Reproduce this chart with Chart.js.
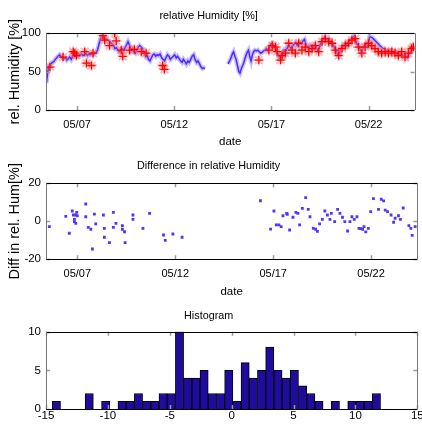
<!DOCTYPE html>
<html>
<head>
<meta charset="utf-8">
<script src="https://cdn.jsdelivr.net/npm/chart.js@4.4.1/dist/chart.umd.min.js"></script>
<style>
  html, body { margin: 0; padding: 0; background: #fff; }
  #wrap { position: relative; width: 422px; height: 432px; }
  canvas { position: absolute; left: 0; }
</style>
</head>
<body>
<div id="wrap">
  <canvas id="humChart" width="422" height="150" style="top:0"></canvas>
  <canvas id="diffChart" width="422" height="150" style="top:150px"></canvas>
  <canvas id="histChart" width="422" height="132" style="top:300px"></canvas>
</div>
<script>
// x axis = day of May
const tickDays = [7, 12, 17, 22];
const dateLabels = ["05/07", "05/12", "05/17", "05/22"];

// modelled humidity (blue line), null = no data
const humDays = [5.42, 5.47, 5.52, 5.58, 5.65, 5.72, 5.80, 5.88, 5.95, 6.02, 6.10, 6.17, 6.25, 6.32, 6.40, 6.47, 6.55, 6.62, 6.70, 6.77,
  6.85, 6.92, 7.00, 7.08, 7.15, 7.23, 7.30, 7.38, 7.45, 7.53, 7.60, 7.68, 7.75, 7.83, 7.90, 7.98, 8.05, 8.12, 8.20, 8.27,
  8.35, 8.42, 8.50, 8.57, 8.65, 8.72, 8.80, 8.88, 8.95, 9.02, 9.10, 9.17, 9.25, 9.33, 9.40, 9.48, 9.55, 9.62, 9.70, 9.77,
  9.85, 9.92, 10.00, 10.07, 10.15, 10.22, 10.30, 10.37, 10.45, 10.52, 10.60, 10.67, 10.75, 10.82, 10.90, 10.97, 11.05, 11.12, 11.20, 11.27,
  11.35, 11.42, 11.50, 11.57, 11.65, 11.72, 11.80, 11.87, 11.95, 12.02, 12.10, 12.17, 12.25, 12.32, 12.40, 12.47, 12.55, 12.62, 12.70, 12.77,
  12.85, 12.92, 13.00, 13.07, 13.15, 13.22, 13.30, 13.38, 13.45, 13.52, 13.58, 14.20,
  14.77, 14.85, 14.92, 15.00, 15.05, 15.12, 15.18, 15.25, 15.32, 15.38, 15.45, 15.52, 15.58, 15.65, 15.70, 15.77, 15.82, 15.88, 15.95, 16.02,
  16.08, 16.15, 16.22, 16.30, 16.37, 16.45, 16.52, 16.60, 16.67, 16.75, 16.82, 16.90, 16.97, 17.05, 17.12, 17.20, 17.27, 17.35, 17.42, 17.50,
  17.57, 17.65, 17.72, 17.80, 17.87, 17.95, 18.02, 18.10, 18.17, 18.25, 18.32, 18.40, 18.47, 18.55, 18.62, 18.70, 18.77, 18.85, 18.92, 19.00,
  19.07, 19.15, 19.22, 19.30, 19.37, 19.45, 19.52, 19.60, 19.67, 19.75, 19.82, 19.90, 19.97, 20.05, 20.12, 20.20, 20.27, 20.35, 20.42, 20.50,
  20.57, 20.65, 20.72, 20.80, 20.87, 20.95, 21.02, 21.10, 21.17, 21.25, 21.32, 21.40, 21.47, 21.55, 21.62, 21.70, 21.77, 21.85, 21.92, 22.00,
  22.05, 22.12, 22.20, 22.27, 22.35, 22.42, 22.50, 22.57, 22.65, 22.72, 22.80, 22.87, 22.95, 23.02, 23.10, 23.17, 23.25, 23.32, 23.40, 23.47,
  23.55, 23.62, 23.70, 23.77, 23.85, 23.92, 24.00, 24.07, 24.15, 24.22, 24.30, 24.36];
const humVals = [35, 45, 55, 58, 60, 62, 63, 66, 68, 70, 72, 70, 68, 67, 68, 65, 67, 69, 66, 70,
  72, 70, 72, 70, 72, 73, 71, 72, 74, 71, 73, 72, 74, 72, 74, 75, 78, 85, 93, 95,
  94, 92, 93, 91, 90, 88, 86, 84, 80, 81, 78, 76, 79, 80, 78, 82, 85, 89, 84, 78,
  80, 76, 74, 78, 82, 84, 82, 80, 74, 70, 72, 66, 64, 68, 72, 73, 70, 72, 71, 73,
  68, 66, 64, 68, 72, 70, 66, 68, 70, 72, 68, 70, 67, 64, 62, 66, 63, 60, 64, 62,
  66, 70, 72, 66, 62, 64, 60, 56, 54, 55, 54, null,
  60, 64, 68, 74, 76, 70, 66, 58, 50, 48, 54, 58, 62, 68, 72, 76, 78, 70, 64, 72,
  76, 78, 77, 78, 76, 74, 75, 77, 78, 80, 78, 82, 86, 87, 84, 80, 76, 72, 68, 70,
  74, 78, 76, 80, 84, 82, 80, 84, 86, 88, 84, 86, 88, 86, 90, 92, 86, 82, 80, 84,
  82, 80, 84, 82, 78, 80, 86, 90, 92, 95, 92, 90, 92, 88, 86, 84, 80, 76, 72, 74,
  80, 82, 84, 86, 84, 88, 90, 92, 94, 96, 92, 86, 84, 80, 76, 80, 84, 86, 84, 88,
  96, 95, 94, 92, 90, 88, 86, 84, 82, 80, 80, 78, 77, 78, 76, 78, 76, 74, 76, 74,
  72, 74, 72, 70, 72, 70, 68, 72, 76, 78, 80, 79];

// measured humidity (red +)
const obsDays = [5.60, 6.28, 6.80, 6.88, 6.97, 7.39, 7.48, 7.74, 7.82, 8.33, 8.42, 8.67, 8.93, 9.01, 9.27, 9.35, 9.70, 9.95, 10.30, 10.55,
  11.40, 11.49,
  16.35, 16.87, 17.04, 17.21, 17.29, 17.47, 17.55, 17.72, 17.89, 18.06, 18.23, 18.40, 18.57, 18.74, 18.92, 19.09, 19.26, 19.43, 19.60, 19.77,
  19.94, 20.12, 20.29, 20.46, 20.63, 20.80, 20.97, 21.14, 21.31, 21.48, 21.65, 21.82, 21.99, 22.16, 22.33, 22.50, 22.67, 22.85, 23.02, 23.19,
  23.36, 23.53, 23.70, 23.87, 24.04, 24.21, 24.30];
const obsVals = [56, 69, 76, 74, 71, 76, 61, 58, 74, 97, 91, 84, 100, 90, 78, 70, 78, 79, 76, 74,
  58, 53,
  65, 78, 84, 82, 76, 65, 71, 74, 87, 78, 74, 87, 78, 82, 76, 80, 84, 76, 89, 93,
  89, 87, 78, 71, 80, 84, 87, 91, 93, 82, 74, 82, 87, 84, 80, 76, 74, 76, 74, 76,
  74, 71, 76, 69, 74, 80, 82];

// difference measured - modelled
const diffDays = [5.57, 6.41, 6.59, 6.74, 6.80, 6.85, 6.85, 6.92, 6.97, 6.92, 7.00, 7.43, 7.43, 7.56, 7.69, 7.77, 7.87, 7.94, 8.33, 8.38,
  8.38, 8.64, 8.84, 8.84, 8.97, 9.30, 9.30, 9.41, 9.44, 9.84, 9.84, 10.35, 10.69, 11.40, 11.49, 11.88, 12.35,
  16.35, 16.87, 17.04, 17.16, 17.29, 17.41, 17.50, 17.69, 17.72, 17.84, 18.01, 18.16, 18.26, 18.35, 18.49, 18.66, 18.79, 18.88, 19.05, 19.17,
  19.26, 19.37, 19.51, 19.64, 19.77, 19.90, 19.97, 20.14, 20.29, 20.41, 20.54, 20.66, 20.80, 20.92, 21.02, 21.14, 21.28, 21.38, 21.47, 21.57,
  21.64, 21.73, 21.86, 21.98, 22.12, 22.38, 22.52, 22.64, 22.72, 22.84, 23.02, 23.15, 23.23, 23.40, 23.50, 23.64, 23.93, 24.03, 24.10, 24.25];
const diffVals = [-2.8, 2.6, -6.3, 5.4, 3.3, 1.0, -0.2, 3.3, 4.7, -1.1, 2.8, 9.1, 2.4, -3.2, -4.2, -14.6, 3.8, -1.4, 3.3, -3.7,
  -8.4, -11.2, 4.7, -3.2, -1.1, -2.3, -4.2, -5.5, -11.2, 3.3, 1.0, -3.7, 4.2, -7.2, -10.0, -6.7, -8.4,
  10.8, -4.1, 5.4, -1.9, -1.9, -2.8, 2.9, 4.2, 3.7, -4.6, 2.1, 4.7, 4.2, -1.9, 6.8, 12.4, 6.3, 2.4, -3.7, -4.2,
  -5.3, -1.4, 1.0, 5.4, 3.3, 1.0, 4.2, -0.2, 6.3, 4.2, 2.1, -0.2, -5.1, -0.2, 2.4, 1.0, 2.4, -3.7, -3.9, -4.2,
  -2.8, -5.6, -3.7, 5.1, 11.9, 6.3, 11.6, 10.7, 5.9, 5.1, 3.3, -0.5, 1.6, 2.9, 1.0, 7.0, -2.3, -3.7, -7.4, -2.8];

// histogram of the differences, 40 bins
const histStart = -14.49;
const histBinWidth = 0.663;
const histCounts = [1, 0, 0, 0, 2, 0, 1, 0, 1, 1, 2, 1, 1, 2, 2, 10, 4, 4, 5, 2,
  2, 5, 1, 6, 4, 5, 8, 5, 4, 5, 3, 2, 1, 0, 1, 0, 1, 1, 1, 2];
const histCenters = histCounts.map((c, i) => histStart + (i + 0.5) * histBinWidth);

const fontFamily = "'Liberation Sans', Arial, sans-serif";
Chart.defaults.font.family = fontFamily;
Chart.defaults.color = "#000";

// MATLAB style box with inward tick marks
const matlabBox = {
  id: "matlabBox",
  afterDraw(chart) {
    const { ctx, chartArea: a, scales } = chart;
    ctx.save();
    ctx.strokeStyle = "#9a9a9a";
    ctx.lineWidth = 1.5;
    ctx.beginPath();
    scales.x.ticks.forEach(t => {
      const px = Math.round(scales.x.getPixelForValue(t.value)) + 0.5;
      ctx.moveTo(px, a.bottom); ctx.lineTo(px, a.bottom - 4);
      ctx.moveTo(px, a.top); ctx.lineTo(px, a.top + 4);
    });
    scales.y.ticks.forEach(t => {
      const py = Math.round(scales.y.getPixelForValue(t.value)) + 0.5;
      ctx.moveTo(a.left, py); ctx.lineTo(a.left + 4, py);
      ctx.moveTo(a.right, py); ctx.lineTo(a.right - 4, py);
    });
    ctx.stroke();
    ctx.lineWidth = 1;
    ctx.strokeStyle = "#000";
    ctx.beginPath();
    ctx.moveTo(a.left, Math.round(a.top) + 0.5); ctx.lineTo(a.right, Math.round(a.top) + 0.5);
    ctx.moveTo(a.left, Math.round(a.bottom) + 0.5); ctx.lineTo(a.right, Math.round(a.bottom) + 0.5);
    ctx.stroke();
    ctx.strokeStyle = "#777";
    ctx.beginPath();
    ctx.moveTo(Math.round(a.left) + 0.5, a.top); ctx.lineTo(Math.round(a.left) + 0.5, a.bottom);
    ctx.moveTo(Math.round(a.right) + 0.5, a.top); ctx.lineTo(Math.round(a.right) + 0.5, a.bottom);
    ctx.stroke();
    ctx.restore();
  }
};

function dateAxis(min, max, height) {
  return {
    type: "linear",
    min: min,
    max: max,
    afterBuildTicks: s => { s.ticks = tickDays.map(v => ({ value: v })); },
    afterFit: s => { s.height = height; s.paddingLeft = 0; s.paddingRight = 0; },
    grid: { display: false, drawTicks: false },
    border: { display: false },
    ticks: { padding: 8, font: { size: 11 }, maxRotation: 0, callback: v => dateLabels[tickDays.indexOf(v)] },
    title: { display: true, text: "date", font: { size: 11.5 }, padding: { top: 0, bottom: 1 } }
  };
}

function valueAxis(min, max, step, label) {
  return {
    min: min,
    max: max,
    afterFit: s => { s.width = 46; s.paddingTop = 0; s.paddingBottom = 0; },
    grid: { display: false, drawTicks: false },
    border: { display: false },
    ticks: { stepSize: step, padding: 5, font: { size: 11.5 } },
    title: { display: !!label, text: label, font: { size: 14.5 }, padding: { top: 6, bottom: 0 } }
  };
}

function titleOpts(text, top, bottom) {
  return { display: true, text: text, color: "#000", font: { size: 10.8, weight: "normal" }, padding: { top: top, bottom: bottom } };
}

const humPoints = humDays.map((d, i) => ({ x: d, y: humVals[i] }));
const obsPoints = obsDays.map((d, i) => ({ x: d, y: obsVals[i] }));

new Chart("humChart", {
  type: "line",
  data: {
    datasets: [
      { data: humPoints, borderColor: "rgba(150,130,255,0.5)", borderWidth: 4.5, pointRadius: 0, spanGaps: false, order: 4 },
      { data: humPoints, borderColor: "#4b2eff", borderWidth: 1.5, pointRadius: 0, spanGaps: false, order: 3 },
      { data: obsPoints, showLine: false, pointStyle: "star", pointRadius: 5.5, borderColor: "rgba(255,110,110,0.45)", borderWidth: 2, order: 2 },
      { data: obsPoints, showLine: false, pointStyle: "cross", pointRadius: 4, borderColor: "#ff0000", borderWidth: 1.3, order: 1 }
    ]
  },
  options: {
    responsive: false,
    animation: false,
    devicePixelRatio: 1,
    layout: { padding: { left: 0, right: 4.7, top: 0, bottom: 0 } },
    plugins: { legend: { display: false }, tooltip: { enabled: false }, title: titleOpts("relative Humidity [%]", 9.5, 10.8) },
    scales: {
      x: dateAxis(5.4, 24.36, 40),
      y: valueAxis(0, 100, 50, "rel. Humidity [%]")
    }
  },
  plugins: [matlabBox]
});

new Chart("diffChart", {
  type: "scatter",
  data: {
    datasets: [
      { data: diffDays.map((d, i) => ({ x: d, y: diffVals[i] })), pointStyle: "rect", pointRadius: 2, backgroundColor: "#5533ff", borderWidth: 0 }
    ]
  },
  options: {
    responsive: false,
    animation: false,
    devicePixelRatio: 1,
    layout: { padding: { left: 0, right: 4.7, top: 0, bottom: 0 } },
    plugins: { legend: { display: false }, tooltip: { enabled: false }, title: titleOpts("Difference in relative Humidity", 9.2, 11.1) },
    scales: {
      x: dateAxis(5.4, 24.36, 40.7),
      y: valueAxis(-20, 20, 20, "Diff in rel. Hum[%]")
    }
  },
  plugins: [matlabBox]
});

const histX = {
  type: "linear",
  min: -15,
  max: 15,
  offset: false,
  afterFit: s => { s.height = 23; s.paddingLeft = 0; s.paddingRight = 0; },
  grid: { display: false, drawTicks: false, offset: false },
  border: { display: false },
  ticks: { stepSize: 5, padding: 0, font: { size: 11.5 }, maxRotation: 0 }
};

new Chart("histChart", {
  type: "bar",
  data: {
    datasets: [
      { data: histCenters.map((c, i) => ({ x: c, y: histCounts[i] })), backgroundColor: "#1f0b9e", borderColor: "#000", borderWidth: 1,
        barPercentage: 1, categoryPercentage: 1 }
    ]
  },
  options: {
    responsive: false,
    animation: false,
    devicePixelRatio: 1,
    layout: { padding: { left: 0, right: 4.7, top: 0, bottom: 0 } },
    plugins: { legend: { display: false }, tooltip: { enabled: false }, title: titleOpts("Histogram", 9.5, 9.2) },
    scales: {
      x: histX,
      y: valueAxis(0, 10, 5, "")
    }
  },
  plugins: [matlabBox]
});
</script>
</body>
</html>
